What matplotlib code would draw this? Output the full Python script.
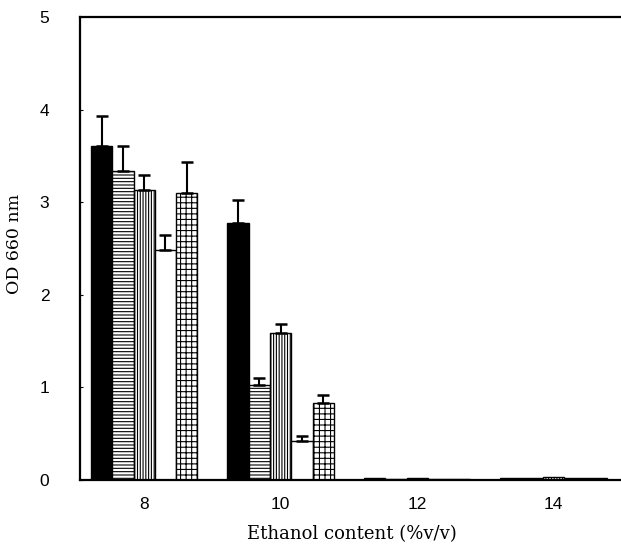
import numpy as np
import matplotlib
matplotlib.use('Agg')
import matplotlib.pyplot as plt

plt.rcParams['hatch.linewidth'] = 0.8

ethanol = [8, 10, 12, 14]
# OD 660 nm for five strains at each ethanol level
s1 = [3.61, 2.78, 0.02, 0.02]
s2 = [3.34, 1.03, 0.01, 0.02]
s3 = [3.13, 1.59, 0.02, 0.03]
s4 = [2.48, 0.42, 0.01, 0.02]
s5 = [3.10, 0.83, 0.01, 0.02]
e1 = [0.32, 0.24, 0, 0]
e2 = [0.27, 0.07, 0, 0]
e3 = [0.16, 0.09, 0, 0]
e4 = [0.17, 0.05, 0, 0]
e5 = [0.34, 0.09, 0, 0]

series = [s1, s2, s3, s4, s5]
errs = [e1, e2, e3, e4, e5]
faces = ['black', 'white', 'white', 'white', 'white']
hatches = [None, '-----', '||||||', None, '+++']

fig = plt.figure(figsize=(6.21, 5.51), dpi=100)
ax = fig.add_axes([0.1288, 0.1289, 0.875, 0.84])

x = np.array(ethanol, dtype=float)
w = 0.312
for i, (vals, err) in enumerate(zip(series, errs)):
    pos = x + (i - 2) * w
    ax.bar(pos, vals, width=w, color=faces[i], edgecolor='black',
           linewidth=1.0, hatch=hatches[i], zorder=2)
    err = np.array(err)
    m = err > 0
    ax.errorbar(pos[m], np.array(vals)[m], yerr=[np.zeros(m.sum()), err[m]],
                fmt='none', ecolor='black', elinewidth=1.5, capsize=4,
                capthick=1.8, zorder=3)

ax.set_xlim(7.06, 15.02)
ax.set_ylim(0, 5)
ax.set_xticks(ethanol)
ax.set_yticks([0, 1, 2, 3, 4, 5])
ax.tick_params(axis='x', length=0, pad=12, labelsize=12.5)
ax.tick_params(axis='y', direction='in', length=2, width=0.8, pad=22, labelsize=12.5)
for lab in ax.get_xticklabels() + ax.get_yticklabels():
    lab.set_family('Liberation Sans')

for sp in ax.spines.values():
    sp.set_linewidth(1.6)
ax.spines['right'].set_visible(False)

ax.set_xlabel('Ethanol content (%v/v)', family='DejaVu Serif', fontsize=13)
ax.set_ylabel('OD 660 nm', family='DejaVu Serif', fontsize=12.5)
ax.xaxis.set_label_coords(0.5, -0.098)
ax.yaxis.set_label_coords(-0.105, 0.51)

fig.savefig('out.png', dpi=100)
